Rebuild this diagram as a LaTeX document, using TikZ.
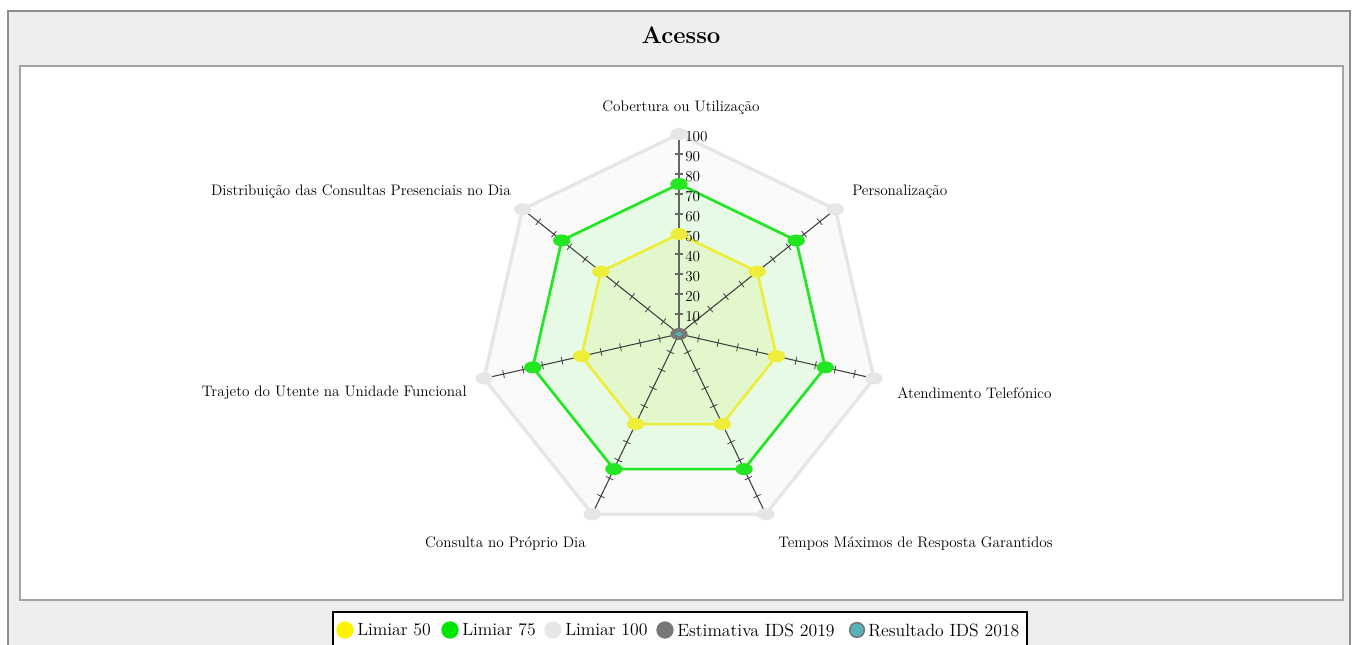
\documentclass[tikz,border=0pt]{standalone}
\usepackage{tikz}
\usetikzlibrary{shapes.geometric}

\definecolor{panelgray}{HTML}{EEEEEE}
\definecolor{bordergray}{HTML}{8C8C8C}
\definecolor{limyellow}{HTML}{EEEE3A}
\definecolor{limgreen}{HTML}{22E622}
\definecolor{limgray}{HTML}{E6E6E6}
\definecolor{fillgreen}{HTML}{E6FAE6}
\definecolor{fillyellow}{HTML}{E2F7CC}
\definecolor{estgray}{HTML}{777777}
\definecolor{resteal}{HTML}{55B3B8}

\begin{document}
\begin{tikzpicture}[x=0.75pt,y=0.75pt,font=\fontsize{11.4}{13}\selectfont]
\tikzstyle{axis}=[draw=black!75,line width=0.8pt]
\tikzstyle{tick}=[draw=black!75,line width=0.6pt]
\tikzstyle{marker}=[ellipse,inner sep=0pt,minimum width=13,minimum height=9]
\tikzstyle{dot}=[circle,inner sep=0pt,minimum size=13]
\tikzstyle{lbl}=[inner sep=0pt]

\useasboundingbox (0,0) rectangle (1359,645);

% frame and panel
\fill[panelgray,draw=bordergray,line width=1pt] (8,-5) rectangle (1350,634);
\fill[white,draw=bordergray!80,line width=1pt] (20,45) rectangle (1343,579);
\node[lbl,font=\fontsize{18}{21}\selectfont\bfseries] (title) at (681,610) {Acesso};

\begin{scope}[shift={(679,311)}]
\coordinate (c) at (0,0);
\foreach \i in {0,...,6}{
  \coordinate (v\i) at ({90-360/7*\i}:200);
  \coordinate (g\i) at ({90-360/7*\i}:150);
  \coordinate (y\i) at ({90-360/7*\i}:100);
}

% thresholds
\draw[fill=gray!4,draw=limgray,line width=2.5pt,line join=round]
  (v0) -- (v1) -- (v2) -- (v3) -- (v4) -- (v5) -- (v6) -- cycle;
\draw[fill=fillgreen,draw=limgreen,line width=2pt,line join=round]
  (g0) -- (g1) -- (g2) -- (g3) -- (g4) -- (g5) -- (g6) -- cycle;
\draw[fill=fillyellow,draw=limyellow,line width=2pt,line join=round]
  (y0) -- (y1) -- (y2) -- (y3) -- (y4) -- (y5) -- (y6) -- cycle;

% axes with ticks
\foreach \i in {1,...,6}{
  \draw[axis] (c) -- (v\i);
  \foreach \k in {1,...,10}
    \draw[tick,rotate={90-360/7*\i}] (20*\k,-4) -- (20*\k,4);
}
\draw[axis,draw=black!60,line width=1.4pt] (c) -- (v0);
\foreach \k in {1,...,10}
  \draw[tick,draw=black!60,line width=1pt] (-4,20*\k) -- (4,20*\k);
\foreach \k in {1,...,10}
  \node[lbl,anchor=west] (val\k) at (6,20*\k-3) {\number\numexpr\k*10\relax};

% markers
\foreach \i in {0,...,6}{
  \node[marker,fill=limgray] (m100-\i) at (v\i) {};
  \node[marker,fill=limgreen] (m75-\i) at (g\i) {};
  \node[marker,fill=limyellow] (m50-\i) at (y\i) {};
}
\node[marker,fill=estgray] (est) at (c) {};
\node[ellipse,fill=resteal,inner sep=0pt,minimum width=5,minimum height=3] (res) at (c) {};
\end{scope}

% axis labels
\node[lbl] (lab0) at (681,537) {Cobertura ou Utilização};
\node[lbl,anchor=west] (lab1) at (852,453) {Personalização};
\node[lbl,anchor=west] (lab2) at (897,252) {Atendimento Telefónico};
\node[lbl,anchor=west] (lab3) at (778,101) {Tempos Máximos de Resposta Garantidos};
\node[lbl,anchor=east] (lab4) at (586,101) {Consulta no Próprio Dia};
\node[lbl,anchor=east] (lab5) at (467,252) {Trajeto do Utente na Unidade Funcional};
\node[lbl,anchor=east] (lab6) at (511,453) {Distribuição das Consultas Presenciais no Dia};

% legend
\draw[fill=white,draw=black,line width=1pt] (333,-5) rectangle (1027,33);
\begin{scope}[font=\fontsize{13.3}{15}\selectfont]
\node[dot,fill=yellow] (d1) at (345,15) {};
\node[lbl,anchor=west] (t1) at (357,15) {Limiar 50};
\node[dot,fill=green!90!black!100] (d2) at (450,15) {};
\node[lbl,anchor=west] (t2) at (462,15) {Limiar 75};
\node[dot,fill=limgray] (d3) at (553,15) {};
\node[lbl,anchor=west] (t3) at (565,15) {Limiar 100};
\node[dot,fill=estgray] (d4) at (665,15) {};
\node[lbl,anchor=west] (t4) at (677,15) {Estimativa IDS 2019};
\node[dot,fill=resteal,draw=estgray,line width=1.2pt,minimum size=11] (d5) at (857,15) {};
\node[lbl,anchor=west] (t5) at (868,15) {Resultado IDS 2018};
\end{scope}
\end{tikzpicture}
\end{document}
